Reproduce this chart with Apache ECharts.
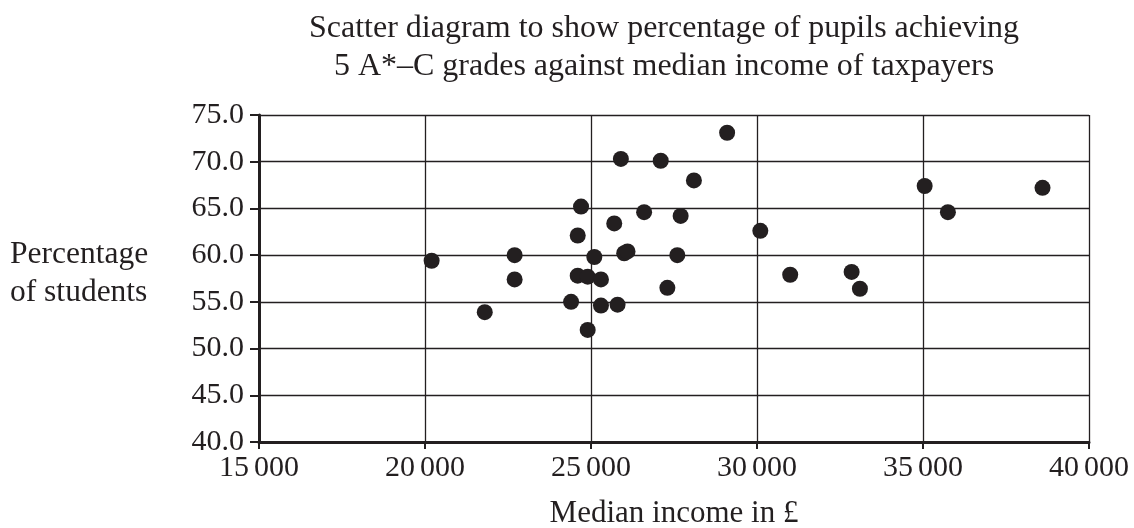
<!DOCTYPE html>
<html>
<head>
<meta charset="utf-8">
<script src="https://cdn.jsdelivr.net/npm/echarts@6/dist/echarts.min.js"></script>
<style>
html,body{margin:0;padding:0;background:#fff;}
#chart{width:1134px;height:528px;}
</style>
</head>
<body>
<div id="chart"></div>
<script>
// Median income of taxpayers (£)
const incomes = [20200, 21800, 22700, 22700, 24400, 24600, 24700, 24600, 24900, 24900,
  25100, 25300, 25300, 25700, 25800, 25900, 26000, 26100, 26600, 27100,
  27300, 27700, 27600, 29100, 28100, 30100, 31000, 32850, 33100, 35050,
  35750, 38600];
// Percentage of pupils achieving 5 A*-C grades
const percentages = [59.4, 53.9, 60.0, 57.4, 55.0, 62.1, 65.2, 57.8, 57.7, 52.0,
  59.8, 57.4, 54.6, 63.4, 54.7, 70.3, 60.2, 60.4, 64.6, 70.1,
  56.5, 64.2, 60.0, 73.1, 68.0, 62.6, 57.9, 58.2, 56.4, 67.4,
  64.6, 67.2];
const xTicks = [15000, 20000, 25000, 30000, 35000, 40000];
const yTicks = [40, 45, 50, 55, 60, 65, 70, 75];

const titleText = 'Scatter diagram to show percentage of pupils achieving\n5 A*\u2013C grades against median income of taxpayers';
const xName = 'Median income in \u00a3';
const yName = 'Percentage\nof students';

const FONT = "'Liberation Serif', 'DejaVu Serif', serif";
const INK = '#231f20';

const points = incomes.map((x, i) => [x, percentages[i]]);

const chart = echarts.init(document.getElementById('chart'), null, {renderer: 'canvas'});
chart.setOption({
  backgroundColor: '#ffffff',
  animation: false,
  title: {
    text: titleText,
    left: 659,
    top: 5,
    textAlign: 'center',
    textStyle: {fontFamily: FONT, fontSize: 32, fontWeight: 'normal', color: INK, lineHeight: 38}
  },
  graphic: [{
    type: 'text',
    left: 10,
    top: 236,
    style: {text: yName, font: "31.5px 'Liberation Serif'", fill: INK, lineHeight: 38, textAlign: 'left'}
  }],
  grid: {left: 259, right: 45, top: 115, bottom: 86, containLabel: false, outerBoundsMode: 'none'},
  xAxis: {
    type: 'value',
    min: xTicks[0],
    max: xTicks[xTicks.length - 1],
    interval: xTicks[1] - xTicks[0],
    name: xName,
    nameLocation: 'middle',
    nameGap: 56,
    nameTextStyle: {fontFamily: FONT, fontSize: 31, color: INK},
    axisLine: {show: true, onZero: false, lineStyle: {color: INK, width: 3}},
    axisTick: {show: true, length: 7, lineStyle: {color: INK, width: 2}},
    axisLabel: {
      margin: 11,
      fontFamily: FONT, fontSize: 30, color: INK,
      formatter: v => {
        const s = String(v);
        return s.slice(0, s.length - 3) + '\u2006' + s.slice(-3);
      }
    },
    splitLine: {show: true, lineStyle: {color: INK, width: 1.3}}
  },
  yAxis: {
    type: 'value',
    min: yTicks[0],
    max: yTicks[yTicks.length - 1],
    interval: yTicks[1] - yTicks[0],
    axisLine: {show: true, onZero: false, lineStyle: {color: INK, width: 3}},
    axisTick: {show: true, length: 9, lineStyle: {color: INK, width: 2}},
    axisLabel: {
      margin: 15,
      fontFamily: FONT, fontSize: 30, color: INK,
      formatter: v => v.toFixed(1)
    },
    splitLine: {show: true, lineStyle: {color: INK, width: 1.3}}
  },
  series: [{
    type: 'scatter',
    data: points,
    symbol: 'circle',
    symbolSize: 16,
    itemStyle: {color: INK, opacity: 1},
    z: 5
  }]
});
</script>
</body>
</html>
